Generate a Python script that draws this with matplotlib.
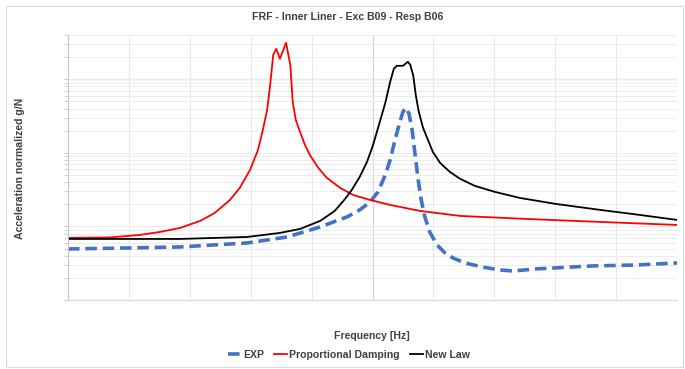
# FRF comparison: experiment vs. two damping models
import matplotlib
matplotlib.use('Agg')
import matplotlib.pyplot as plt
from matplotlib.ticker import MultipleLocator, LogLocator, NullFormatter
from matplotlib.patches import Rectangle

plt.rcParams['font.family'] = ['Liberation Sans Narrow', 'Liberation Sans', 'DejaVu Sans']

# EXP (measured)
freq_exp = [0, 102, 184, 294, 360, 414, 458, 479, 496, 509, 521, 529, 537, 545,
            550, 555, 560, 565, 570, 575, 580, 586, 594, 606, 619, 632, 652, 680,
            709, 731, 750, 767, 796, 860, 933, 1000]
acc_exp = [0.00494, 0.00510, 0.00526, 0.00596, 0.00719, 0.00984, 0.01346, 0.01677,
           0.0215, 0.02946, 0.0502, 0.0803, 0.1502, 0.264, 0.361, 0.410, 0.339,
           0.2055, 0.0939, 0.0429, 0.0229, 0.01346, 0.00841, 0.0056, 0.00436,
           0.00373, 0.00319, 0.00281, 0.00256, 0.00248, 0.00256, 0.00264, 0.00272,
           0.0029, 0.00299, 0.00319]

# Proportional damping model
freq_prop = [0, 69, 118, 151, 184, 217, 241, 266, 282, 299, 312, 320, 327, 332,
             337, 342, 348, 358, 365, 369, 374, 381, 389, 397, 411, 425, 447, 468,
             496, 529, 578, 644, 752, 874, 1000]
acc_prop = [0.00698, 0.00709, 0.00766, 0.00841, 0.00954, 0.01188, 0.01527, 0.0229,
            0.0334, 0.0587, 0.1099, 0.2055, 0.3846, 0.842, 2.154, 2.60, 1.90, 3.14,
            1.575, 0.494, 0.281, 0.193, 0.1285, 0.0939, 0.0625, 0.0457, 0.0334,
            0.0268, 0.0229, 0.0196, 0.01625, 0.01389, 0.01265, 0.01151, 0.01048]

# New law model
freq_new = [0, 184, 294, 348, 381, 414, 438, 455, 466, 479, 491, 501, 512, 521,
            529, 535, 540, 550, 558, 562, 567, 571, 576, 583, 599, 611, 627, 644,
            668, 701, 742, 801, 874, 939, 1000]
acc_new = [0.00676, 0.00676, 0.00719, 0.00816, 0.00925, 0.01188, 0.01625, 0.02366,
           0.03139, 0.0472, 0.0754, 0.1285, 0.264, 0.4786, 0.924, 1.389, 1.526,
           1.526, 1.730, 1.575, 1.116, 0.615, 0.361, 0.219, 0.1032, 0.0731, 0.0551,
           0.0443, 0.0356, 0.02946, 0.0244, 0.02023, 0.01677, 0.01433, 0.01226]

fig = plt.figure(figsize=(6.85, 3.69), dpi=100)
ax = fig.add_axes([68 / 685, 69 / 369, 609 / 685, 265 / 369])

ax.plot(freq_exp, acc_exp, color='#4472C4', lw=2.6, dashes=(3.2, 1.6),
        label='EXP', dash_capstyle='butt', dash_joinstyle='round')
ax.plot(freq_prop, acc_prop, color='#FF0000', lw=1.3, label='Proportional Damping')
ax.plot(freq_new, acc_new, color='black', lw=1.3, label='New Law')

ax.set_yscale('log')
ax.set_xlim(0, 1000)
ax.set_ylim(1e-3, 4)

ax.xaxis.set_major_locator(MultipleLocator(500))
ax.xaxis.set_minor_locator(MultipleLocator(100))
ax.yaxis.set_major_locator(LogLocator(base=10))
ax.yaxis.set_minor_locator(LogLocator(base=10, subs=range(2, 10)))
ax.yaxis.set_major_formatter(NullFormatter())
ax.yaxis.set_minor_formatter(NullFormatter())
ax.xaxis.set_major_formatter(NullFormatter())

ax.grid(which='major', axis='x', color='#d4d4d4', lw=0.8)
ax.grid(which='minor', axis='x', color='#e8e8e8', lw=0.7)
ax.grid(which='both', axis='y', color='#ececec', lw=0.7)
ax.axhline(1, color='#d8d8d8', lw=1.0, zorder=0.5)
ax.set_axisbelow(True)

ax.tick_params(axis='x', which='both', length=0)
ax.tick_params(axis='y', which='both', length=3, color='#c8c8c8', direction='out')
for s in ['top', 'right']:
    ax.spines[s].set_visible(False)
ax.spines['left'].set_color('#c8c8c8')
ax.spines['bottom'].set_color('#d9d9d9')

txt = dict(fontweight='bold', color='#404040', fontsize=7.6)
fig.text(348 / 685, 1 - 17 / 369, 'FRF - Inner Liner - Exc B09 - Resp B06',
         ha='center', va='center', **txt)
fig.text(372 / 685, 1 - 336 / 369, 'Frequency [Hz]', ha='center', va='center', **txt)
fig.text(20 / 685, 1 - 168 / 369, 'Acceleration normalized g/N', ha='center',
         va='center', rotation=90, **txt)

leg = fig.legend(loc='center', bbox_to_anchor=(349 / 685, 1 - 355 / 369), ncol=3,
                 frameon=False, handlelength=1.2, handletextpad=0.2,
                 columnspacing=1.0, prop={'weight': 'bold', 'size': 7.6})
for t in leg.get_texts():
    t.set_color('#404040')

fig.add_artist(Rectangle((6 / 685, 2 / 369), 677 / 685, 361 / 369, transform=fig.transFigure,
                         fill=False, edgecolor='#d9d9d9', lw=0.8))

fig.savefig('out.png', dpi=100)
